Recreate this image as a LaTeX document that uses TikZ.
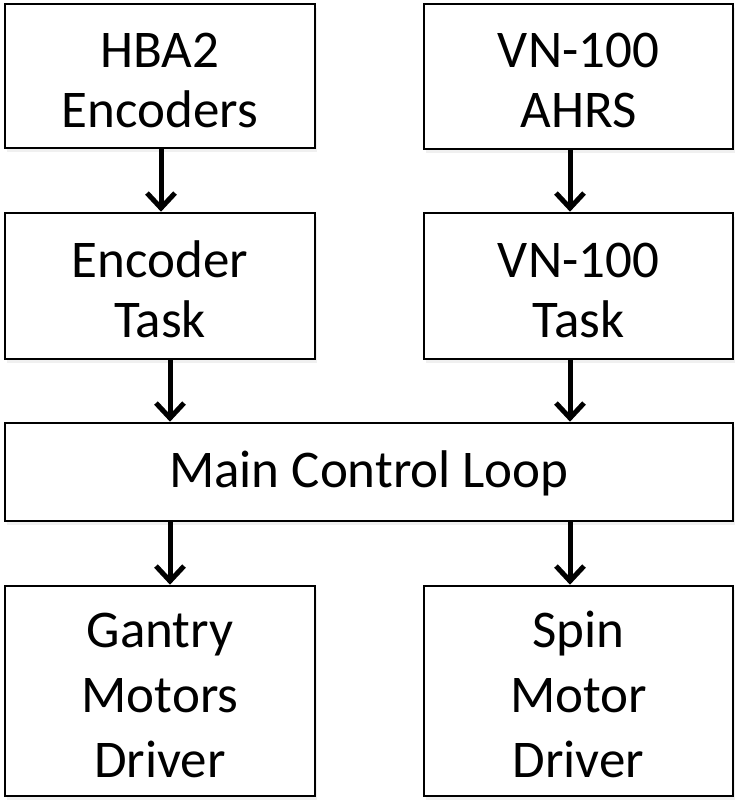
\documentclass[tikz,border=0pt]{standalone}
\usepackage{fontspec}
\setmainfont{Carlito}
\usetikzlibrary{arrows.meta,shadows}
\newcommand{\topstr}[1]{\rule{0pt}{#1}}
\newcommand{\botstr}[1]{\rule[-#1]{0pt}{#1}}
\begin{document}
\begin{tikzpicture}[x=1pt,y=-1pt,
  blk/.style={draw=black, line width=2.6pt, fill=white, inner sep=0pt, align=center,
    drop shadow={opacity=0.12, shadow xshift=2pt, shadow yshift=-4pt}},
  two/.style={font=\fontsize{53}{60}\selectfont},
  three/.style={font=\fontsize{53}{65}\selectfont},
  one/.style={font=\fontsize{53}{60}\selectfont},
  arr/.style={line width=5pt, -{Straight Barb[length=15pt, width=28pt, line width=5pt]}}]
\useasboundingbox (0,0) rectangle (735,800);
\node[blk, two, minimum width=310pt, minimum height=144pt] (A) at (160,76)
  {\topstr{50pt}HBA2\\Encoders\botstr{8pt}};
\node[blk, two, minimum width=309pt, minimum height=145pt] (B) at (578.5,76.5)
  {\topstr{50pt}VN-100\\AHRS\botstr{8pt}};
\node[blk, two, minimum width=310pt, minimum height=146pt] (C) at (160,286)
  {\topstr{50pt}Encoder\\Task\botstr{8pt}};
\node[blk, two, minimum width=309pt, minimum height=146pt] (D) at (578.5,286)
  {\topstr{50pt}VN-100\\Task\botstr{8pt}};
\node[blk, one, minimum width=728pt, minimum height=98pt] (E) at (369,472)
  {\topstr{45pt}Main Control Loop\botstr{15pt}};
\node[blk, three, minimum width=310pt, minimum height=210pt] (F) at (160,691)
  {\topstr{50pt}Gantry\\Motors\\Driver\botstr{8pt}};
\node[blk, three, minimum width=309pt, minimum height=210pt] (G) at (578.5,691)
  {\topstr{50pt}Spin\\Motor\\Driver\botstr{8pt}};
\draw[arr] ([xshift=1pt]A.south) -- ([xshift=1pt]C.north);
\draw[arr] ([xshift=-8.5pt]B.south) -- ([xshift=-8.5pt]D.north);
\draw[arr] ([xshift=10pt]C.south) -- ([xshift=10pt]C.south |- E.north);
\draw[arr] ([xshift=-8.5pt]D.south) -- ([xshift=-8.5pt]D.south |- E.north);
\draw[arr] ([xshift=10pt]F.north |- E.south) -- ([xshift=10pt]F.north);
\draw[arr] ([xshift=-8.5pt]G.north |- E.south) -- ([xshift=-8.5pt]G.north);
\end{tikzpicture}
\end{document}
